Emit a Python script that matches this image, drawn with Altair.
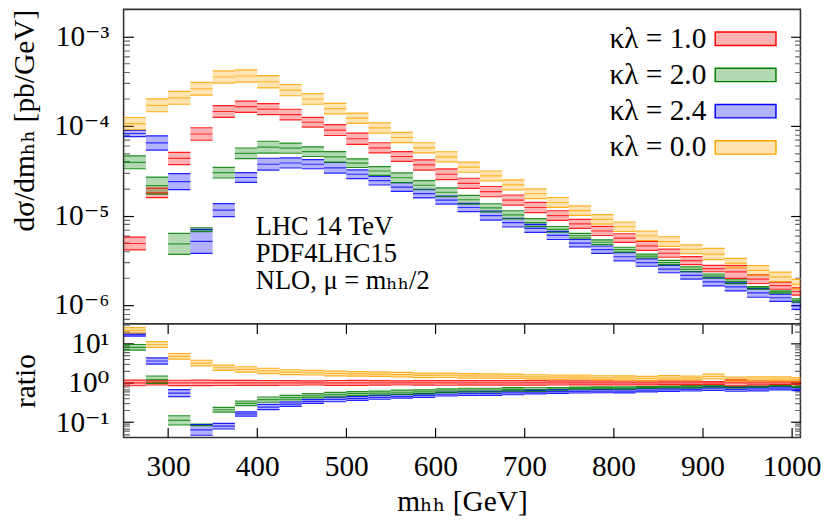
import altair as alt
import pandas as pd

# ---------------- data ----------------
# lower edges of the 25 GeV m_hh bins [GeV]
mhh_lo = [250, 275, 300, 325, 350, 375, 400, 425, 450, 475, 500, 525, 550, 575,
          600, 625, 650, 675, 700, 725, 750, 775, 800, 825, 850, 875, 900, 925,
          950, 975, 1000]
bin_width = 25

series_names = ["κλ = 1.0", "κλ = 2.0", "κλ = 2.4", "κλ = 0.0"]
series_colors = ["#ff0000", "#008000", "#0000ff", "#ffa500"]

# central values dsigma/dm_hh [pb/GeV]
xs_k1 = [4.88e-6, 1.79e-5, 4.34e-5, 8.13e-5, 1.45e-4, 1.64e-4, 1.54e-4, 1.34e-4,
         1.10e-4, 8.99e-5, 7.19e-5, 5.70e-5, 4.56e-5, 3.67e-5, 2.89e-5, 2.29e-5,
         1.85e-5, 1.49e-5, 1.23e-5, 1.00e-5, 8.07e-6, 6.73e-6, 5.61e-6, 4.59e-6,
         3.80e-6, 3.14e-6, 2.56e-6, 2.35e-6, 1.95e-6, 1.65e-6, 1.42e-6]
xs_k2 = [3.93e-5, 2.16e-5, 4.83e-6, 6.96e-6, 3.01e-5, 4.95e-5, 5.79e-5, 5.65e-5,
         5.16e-5, 4.52e-5, 3.84e-5, 3.14e-5, 2.64e-5, 2.18e-5, 1.82e-5, 1.50e-5,
         1.22e-5, 1.02e-5, 8.34e-6, 7.01e-6, 5.95e-6, 5.04e-6, 4.16e-6, 3.53e-6,
         2.99e-6, 2.51e-6, 2.11e-6, 1.83e-6, 1.56e-6, 1.40e-6, 1.13e-6]
xs_k24 = [8.24e-5, 6.46e-5, 2.39e-5, 5.16e-6, 1.15e-5, 2.66e-5, 3.74e-5, 3.86e-5,
          3.74e-5, 3.41e-5, 2.89e-5, 2.45e-5, 2.08e-5, 1.76e-5, 1.49e-5, 1.23e-5,
          1.00e-5, 8.34e-6, 7.19e-6, 6.00e-6, 4.92e-6, 4.16e-6, 3.47e-6, 2.99e-6,
          2.53e-6, 2.15e-6, 1.82e-6, 1.60e-6, 1.37e-6, 1.21e-6, 9.86e-7]
xs_k0 = [1.062e-4, 1.70e-4, 2.06e-4, 2.60e-4, 3.52e-4, 3.61e-4, 3.11e-4, 2.51e-4,
         2.00e-4, 1.56e-4, 1.22e-4, 9.5e-5, 7.43e-5, 5.70e-5, 4.52e-5, 3.47e-5,
         2.77e-5, 2.20e-5, 1.75e-5, 1.40e-5, 1.135e-5, 9.08e-6, 7.50e-6, 5.95e-6,
         5.13e-6, 4.21e-6, 3.72e-6, 2.94e-6, 2.45e-6, 2.07e-6, 1.72e-6]

# scale-uncertainty band, percent (multiplicative up / divisive down)
err_k1 = [18, 13, 17, 17.5, 16.5, 15.5, 15, 14.6, 13.2, 15, 15.5, 14, 13.2, 14,
          14.6, 14, 14, 13.8, 14, 13.2, 12.4, 12.4, 11.8, 12.4, 11, 11, 8.5, 18,
          11.8, 9.6, 9.9]
err_k2 = [18, 24.5, 31, 5, 14.6, 14.6, 16.6, 14, 13.2, 14.6, 11.8, 11.8, 13.2,
          12.4, 11.8, 11.8, 11, 11, 11, 7.7, 6.4, 6.4, 6.4, 5, 5.6, 6.4, 5.6, 5,
          3.3, 3, 4.3]
err_k24 = [8.5, 20, 22.9, 36.4, 18, 13.2, 16.6, 13.8, 12.4, 14.6, 11.8, 11.8,
           11.8, 11.8, 11, 11, 12.4, 11.8, 11, 11, 9.9, 9.9, 11, 9.9, 9.9, 9.9,
           11, 11, 11.8, 9.9, 9.6]
err_k0 = [17, 18, 18, 18, 17, 17, 17, 15.5, 14.5, 14.5, 14, 14, 14, 14, 14, 14,
          13.5, 13.5, 13.5, 13.5, 13, 13, 13, 13, 13, 12, 15.5, 13, 13, 13, 13]

annotation = "LHC 14 TeV\nPDF4LHC15\nNLO, μ = mₕₕ/2"
x_ticks = [300, 400, 500, 600, 700, 800, 900, 1000]
up_domain = [6.2e-7, 2.0e-3]
ratio_domain = [0.041, 32]
up_ticks = [m * 10.0 ** e for e in range(-7, -2) for m in range(1, 10)
            if up_domain[0] < m * 10.0 ** e < 0.95 * up_domain[1]]
ratio_ticks = [m * 10.0 ** e for e in range(-2, 2) for m in range(1, 10)
               if ratio_domain[0] < m * 10.0 ** e < ratio_domain[1]]

# ---------------- table ----------------
rows = []
for name, vals, errs in zip(series_names, [xs_k1, xs_k2, xs_k24, xs_k0],
                            [err_k1, err_k2, err_k24, err_k0]):
    for i, lo in enumerate(mhh_lo):
        c = vals[i]
        f = 1 + errs[i] / 100.0
        ref = xs_k1[i]
        rows.append(dict(series=name, lo=lo, hi=lo + bin_width,
                         c=c, ylo=c / f, yhi=c * f,
                         rc=c / ref, rlo=c / f / ref, rhi=c * f / ref))
df = pd.DataFrame(rows)

# ---------------- styling ----------------
FONT = "Liberation Serif, DejaVu Serif, serif"
W, H1, H2 = 691, 321, 116
TL = 10  # tick length (ticks point inward)

xsc = alt.Scale(domain=[250, 1010], nice=False, zero=False)
ysc_up = alt.Scale(type="log", domain=up_domain, nice=False)
ysc_ra = alt.Scale(type="log", domain=ratio_domain, nice=False)
col_sc = alt.Scale(domain=series_names, range=series_colors)

is_major = "abs(log(datum.value)/LN10 - round(log(datum.value)/LN10)) < 0.01"
tick_color = {"condition": {"test": is_major, "value": "#000000"}, "value": "#666666"}
tick_dash = {"condition": {"test": is_major, "value": [TL, 0]}, "value": [0, 4, 6, 40]}

lab_up = ("%s ? ['10⁻⁷','10⁻⁶','10⁻⁵','10⁻⁴','10⁻³'][round(log(datum.value)/LN10)+7] : ''"
          % is_major)
lab_ra = ("%s ? ['10⁻²','10⁻¹','10⁰','10¹'][round(log(datum.value)/LN10)+2] : ''"
          % is_major)


def yaxis(orient, values, expr=None, title=None, anchor=None):
    kw = dict(orient=orient, values=values, offset={"expr": str(-TL)}, tickSize=TL,
              domain=False, grid=False, tickColor=tick_color, tickDash=tick_dash,
              tickWidth=1.2, labelOverlap=False, labelFlush=False, labelBound=False)
    if expr is not None:
        kw.update(labels=True, labelExpr=expr, labelFont=FONT, labelFontSize=30,
                  labelPadding=15, labelColor="#000")
    else:
        kw.update(labels=False)
    if title is not None:
        kw.update(title=title, titleFont=FONT, titleFontSize=30, titleFontWeight="normal",
                  titlePadding=15, titleColor="#000")
        if anchor:
            kw.update(titleAnchor=anchor)
    else:
        kw.update(title=None)
    return alt.Axis(**kw)


def xaxis(orient, labels):
    kw = dict(orient=orient, values=x_ticks, offset={"expr": str(-TL)}, tickSize=TL,
              domain=False, grid=False, tickColor="#000", tickWidth=1.2)
    if labels:
        kw.update(labels=True, labelFont=FONT, labelFontSize=30, labelPadding=15,
                  labelColor="#000", format="d", labelFlush=False,
                  title="mₕₕ [GeV]", titleFont=FONT, titleFontSize=30,
                  titleFontWeight="normal", titlePadding=6, titleColor="#000")
    else:
        kw.update(labels=False, title=None)
    return alt.Axis(**kw)


# wide flat swatch: small nominal size, path wider than the unit square
leg = alt.Legend(title=None, orient="none", legendX=620, legendY=15, padding=0,
                 symbolType="M-3.1,-0.68H3.1V0.68H-3.1Z", symbolSize=400,
                 symbolStrokeWidth=1.5, labelFont=FONT, labelFontSize=30,
                 labelColor="#000", labelAlign="right", labelOffset={"expr": "-55"},
                 labelLimit=0, rowPadding=7)

base = alt.Chart(df)


def panel(yc, ylo, yhi, ysc, ax_left, ax_right, x_bottom, x_top, legend, height, extra=None):
    bands = base.mark_rect(clip=True).encode(
        x=alt.X("lo:Q", scale=xsc, axis=x_bottom),
        x2="hi:Q",
        y=alt.Y(f"{ylo}:Q", scale=ysc, axis=ax_left),
        y2=f"{yhi}:Q",
        fill=alt.Fill("series:N", scale=col_sc, sort=series_names, legend=legend),
        stroke=alt.Stroke("series:N", scale=col_sc, sort=series_names, legend=legend),
        strokeWidth=alt.value(0),
    )
    mid = base.mark_rule(clip=True, strokeWidth=1.2, opacity=0.75).encode(
        x=alt.X("lo:Q", scale=xsc, axis=x_top),
        x2="hi:Q",
        y=alt.Y(f"{yc}:Q", scale=ysc, axis=ax_right),
        color=alt.Color("series:N", scale=col_sc, legend=None),
    )
    top = base.mark_rule(clip=True, strokeWidth=1.2, opacity=0.85).encode(
        x=alt.X("lo:Q", scale=xsc, axis=None),
        x2="hi:Q",
        y=alt.Y(f"{yhi}:Q", scale=ysc, axis=None),
        color=alt.Color("series:N", scale=col_sc, legend=None),
    )
    bot = base.mark_rule(clip=True, strokeWidth=1.2, opacity=0.85).encode(
        x=alt.X("lo:Q", scale=xsc, axis=None),
        x2="hi:Q",
        y=alt.Y(f"{ylo}:Q", scale=ysc, axis=None),
        color=alt.Color("series:N", scale=col_sc, legend=None),
    )
    layers = [bands, mid, top, bot]
    if extra is not None:
        layers.append(extra)
    return alt.layer(*layers).resolve_axis(x="independent", y="independent").properties(
        width=W, height=height)


text_up = alt.Chart(pd.DataFrame({"t": [annotation]})).mark_text(
    align="left", baseline="top", font=FONT, fontSize=27, lineBreak="\n",
    lineHeight=28, color="#000"
).encode(text="t:N", x=alt.value(135), y=alt.value(209))

upper = panel("c", "ylo", "yhi", ysc_up,
              yaxis("left", up_ticks, lab_up, "dσ/dmₕₕ [pb/GeV]", "end"),
              yaxis("right", up_ticks),
              None, None, leg, H1, text_up)
lower = panel("rc", "rlo", "rhi", ysc_ra,
              yaxis("left", ratio_ticks, lab_ra, "ratio"),
              yaxis("right", ratio_ticks),
              xaxis("bottom", True), xaxis("top", False), None, H2)

chart = alt.vconcat(upper, lower, spacing=0, bounds="flush").resolve_scale(
    x="independent", y="independent", fill="independent",
    stroke="independent", color="independent"
).configure(
    padding={"top": -5, "left": 0, "right": 0, "bottom": 0}, background="white"
).configure_view(
    stroke="#333", strokeWidth=1.6
).configure_rect(fillOpacity=0.3)

chart.save("out.html", embed_options={"renderer": "svg", "actions": False})
